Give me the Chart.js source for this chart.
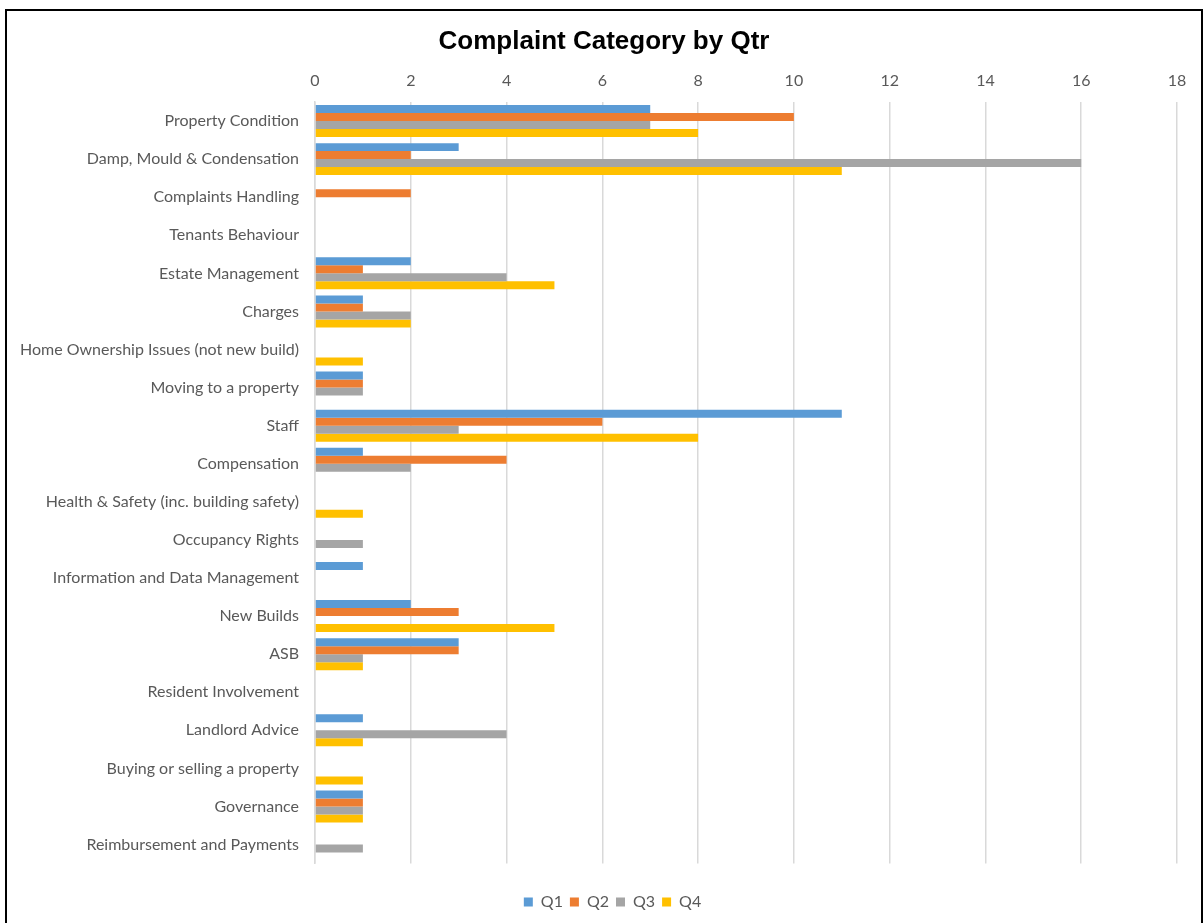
<!DOCTYPE html>
<html>
<head>
<meta charset="utf-8">
<script src="https://cdn.jsdelivr.net/npm/chart.js@4/dist/chart.umd.min.js"></script>
<style>
  html, body { margin: 0; padding: 0; background: #fff; overflow: hidden; width: 1203px; height: 923px; }
  #frame { position: absolute; left: 5px; top: 9px; width: 1194px; height: 1000px; border: 2px solid #000; border-bottom: none; }
  #chart { position: absolute; left: 0; top: 0; }
</style>
</head>
<body>
<div id="frame"></div>
<canvas id="chart" width="1203" height="923"></canvas>
<script>
// Complaint categories, top to bottom
const categories = [
  'Property Condition',
  'Damp, Mould & Condensation',
  'Complaints Handling',
  'Tenants Behaviour',
  'Estate Management',
  'Charges',
  'Home Ownership Issues (not new build)',
  'Moving to a property',
  'Staff',
  'Compensation',
  'Health & Safety (inc. building safety)',
  'Occupancy Rights',
  'Information and Data Management',
  'New Builds',
  'ASB',
  'Resident Involvement',
  'Landlord Advice',
  'Buying or selling a property',
  'Governance',
  'Reimbursement and Payments'
];

// Number of complaints per quarter
const q1 = [7, 3, 0, 0, 2, 1, 0, 1, 11, 1, 0, 0, 1, 2, 3, 0, 1, 0, 1, 0];
const q2 = [10, 2, 2, 0, 1, 1, 0, 1, 6, 4, 0, 0, 0, 3, 3, 0, 0, 0, 1, 0];
const q3 = [7, 16, 0, 0, 4, 2, 0, 1, 3, 2, 0, 1, 0, 0, 1, 0, 4, 0, 1, 1];
const q4 = [8, 11, 0, 0, 5, 2, 1, 0, 8, 0, 1, 0, 0, 5, 1, 0, 1, 1, 1, 0];

const seriesNames = ['Q1', 'Q2', 'Q3', 'Q4'];
const seriesColors = ['#5B9BD5', '#ED7D31', '#A5A5A5', '#FFC000'];

// Value axis ticks
const axisMin = 0;
const axisMax = 18;
const axisStep = 2;

const labelColor = '#595959';
const gridColor = '#d9d9d9';
const bodyFont = 'Lato, "Open Sans", sans-serif';

const datasets = [q1, q2, q3, q4].map((values, i) => ({
  label: seriesNames[i],
  data: values,
  backgroundColor: seriesColors[i],
  borderWidth: 0,
  categoryPercentage: 0.84,
  barPercentage: 1.0
}));

// Centre the title and legend over the whole frame rather than the
// space left of the right-hand padding.
const centreBlocks = {
  id: 'centreBlocks',
  afterLayout(chart) {
    const t = chart.titleBlock;
    if (t) { t.left += 15.5; t.right += 15.5; }
    const l = chart.legend;
    if (l) { l.left += 24; l.right += 24; }
  }
};

new Chart(document.getElementById('chart'), {
  type: 'bar',
  data: { labels: categories, datasets },
  plugins: [centreBlocks],
  options: {
    indexAxis: 'y',
    responsive: false,
    animation: false,
    layout: { padding: { left: 0, right: 26, top: 0, bottom: 3 } },
    plugins: {
      title: {
        display: true,
        text: 'Complaint Category by Qtr',
        color: '#000',
        font: { family: '"Liberation Sans", Arial, sans-serif', size: 26, weight: 'bold' },
        padding: { top: 26, bottom: 0 }
      },
      legend: {
        display: true,
        position: 'bottom',
        title: { display: true, text: '', font: { size: 2 }, padding: { top: 21, bottom: 0 } },
        labels: {
          color: labelColor,
          font: { family: bodyFont, size: 16 },
          boxWidth: 9,
          boxHeight: 9,
          padding: 7
        }
      },
      tooltip: { enabled: false }
    },
    scales: {
      x: {
        position: 'top',
        min: axisMin,
        max: axisMax,
        afterFit: (scale) => { scale.height = 44.8; },
        ticks: {
          stepSize: axisStep,
          color: labelColor,
          font: { family: bodyFont, size: 16 },
          padding: 12
        },
        grid: { color: gridColor, lineWidth: 1.5, drawTicks: false },
        border: { display: false }
      },
      y: {
        afterFit: (scale) => { scale.width = 315; },
        ticks: {
          color: labelColor,
          font: { family: bodyFont, size: 16 },
          padding: 16,
          autoSkip: false
        },
        grid: { display: false, drawTicks: false },
        border: { display: true, color: gridColor, width: 1.5 }
      }
    }
  }
});
</script>
</body>
</html>
